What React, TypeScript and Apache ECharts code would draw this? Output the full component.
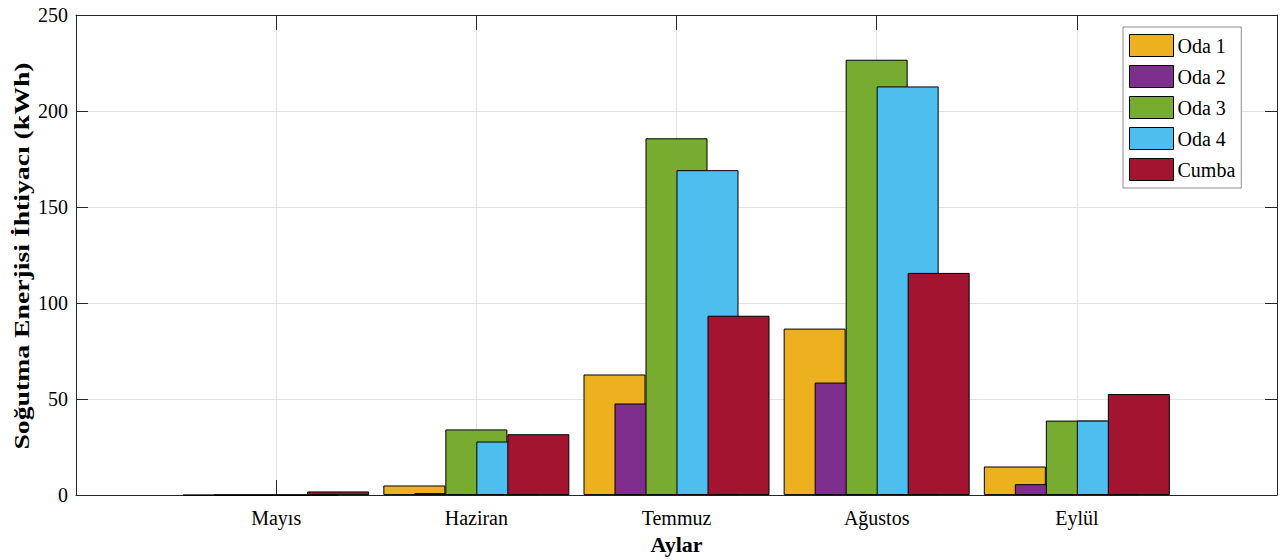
import React, { useEffect, useRef } from "react";
import * as echarts from "echarts";

const months = ["Mayıs", "Haziran", "Temmuz", "Ağustos", "Eylül"];
const seriesNames = ["Oda 1", "Oda 2", "Oda 3", "Oda 4", "Cumba"];
const oda1 = [0, 5.0, 62.8, 86.7, 14.9];
const oda2 = [0, 1.0, 47.7, 58.6, 5.7];
const oda3 = [0, 34.2, 185.8, 226.7, 38.8];
const oda4 = [0, 27.9, 169.2, 212.8, 38.8];
const cumba = [1.9, 31.7, 93.4, 115.7, 52.6];
const yTicks = [0, 50, 100, 150, 200, 250];
const colors = ["#EDB120", "#7E2F8E", "#77AC30", "#4DBEEE", "#A2142F"];
const yTitle = "Soğutma Enerjisi İhtiyacı (kWh)";
const xTitle = "Aylar";

const FONT = "'Liberation Serif', 'Times New Roman', serif";

export default function App() {
  const ref = useRef<HTMLDivElement>(null);
  useEffect(() => {
    if (!ref.current) return;
    const chart = echarts.init(ref.current, undefined, { renderer: "svg" });
    const allSeries = [oda1, oda2, oda3, oda4, cumba];
    const boxLine = { show: true, onZero: false, lineStyle: { color: "#262626", width: 1 } };
    chart.setOption({
      animation: false,
      backgroundColor: "#ffffff",
      textStyle: { fontFamily: FONT },
      grid: { left: 76, right: 3, top: 15, bottom: 63, containLabel: false },
      legend: {
        show: true,
        orient: "vertical",
        left: 1123,
        top: 27,
        itemWidth: 44,
        itemHeight: 22,
        itemGap: 8,
        padding: [7, 6, 7, 6],
        borderColor: "#8c8c8c",
        borderWidth: 1,
        backgroundColor: "#ffffff",
        icon: "rect",
        selectedMode: false,
        itemStyle: { borderColor: "#000", borderWidth: 1 },
        textStyle: { fontFamily: FONT, fontSize: 20, color: "#000", padding: [0, 0, 0, -1] },
        data: seriesNames,
      },
      xAxis: [
        {
          type: "value",
          min: 0,
          max: 6,
          interval: 1,
          position: "bottom",
          name: xTitle,
          nameLocation: "middle",
          nameGap: 32,
          nameTextStyle: { fontFamily: FONT, fontSize: 22, fontWeight: "bold", color: "#000" },
          axisLine: boxLine,
          axisTick: { show: true, inside: true, length: 15, lineStyle: { color: "#262626" } },
          axisLabel: {
            fontFamily: FONT,
            fontSize: 20,
            color: "#000",
            margin: 13,
            formatter: (v: number) => months[v - 1] ?? "",
          },
          splitLine: { show: true, lineStyle: { color: "#e3e3e3", width: 1 } },
        },
        {
          type: "value",
          min: 0,
          max: 6,
          interval: 1,
          position: "top",
          axisLine: boxLine,
          axisTick: { show: true, inside: true, length: 15, lineStyle: { color: "#262626" } },
          axisLabel: { show: false },
          splitLine: { show: false },
        },
      ],
      yAxis: [
        {
          type: "value",
          min: yTicks[0],
          max: yTicks[yTicks.length - 1],
          interval: 50,
          position: "left",
          axisLine: boxLine,
          axisTick: { show: true, inside: true, length: 12, lineStyle: { color: "#262626" } },
          axisLabel: { fontFamily: FONT, fontSize: 20, color: "#000", margin: 8 },
          splitLine: { show: true, lineStyle: { color: "#e3e3e3", width: 1 } },
        },
        {
          type: "value",
          min: yTicks[0],
          max: yTicks[yTicks.length - 1],
          interval: 50,
          position: "right",
          axisLine: boxLine,
          axisTick: { show: true, inside: true, length: 12, lineStyle: { color: "#262626" } },
          axisLabel: { show: false },
          splitLine: { show: false },
        },
      ],
      graphic: [
        {
          type: "text",
          x: 22,
          y: 256,
          rotation: Math.PI / 2,
          scaleX: 1.26,
          style: {
            text: yTitle,
            fontFamily: FONT,
            fontSize: 22,
            fontWeight: "bold",
            fill: "#000",
            align: "center",
            verticalAlign: "middle",
          },
        },
      ],
      series: allSeries.map((vals, si) => ({
        type: "bar",
        name: seriesNames[si],
        xAxisIndex: 0,
        yAxisIndex: 0,
        barWidth: 62,
        barGap: "-50%",
        data: vals.map((v, i) => [i + 1, v]),
        itemStyle: { color: colors[si], borderColor: "#000", borderWidth: 1 },
        emphasis: { disabled: true },
      })),
    });
    return () => chart.dispose();
  }, []);
  return (
    <div
      ref={ref}
      style={{ position: "fixed", left: 0, top: 0, width: 1280, height: 560, background: "#fff" }}
    />
  );
}
